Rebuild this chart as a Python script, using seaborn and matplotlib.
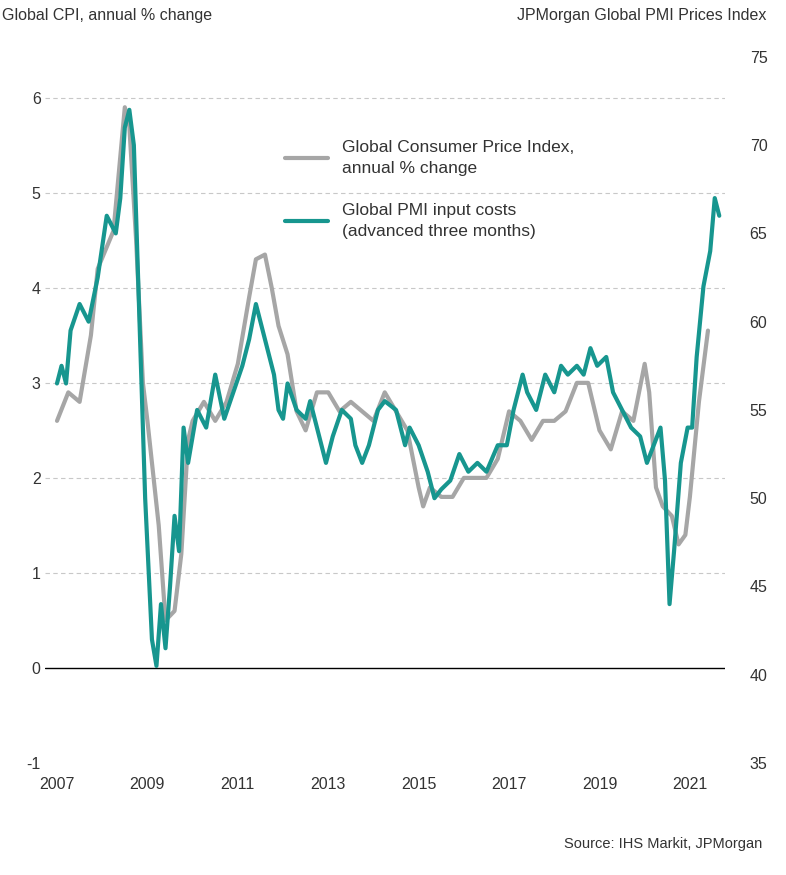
import numpy as np
import pandas as pd
import matplotlib
matplotlib.use("Agg")
import matplotlib.pyplot as plt
import seaborn as sns

cpi_t = [2007.0, 2007.25, 2007.5, 2007.75, 2007.9, 2008.25, 2008.5, 2008.6, 2008.75, 2008.9, 2009.0,
         2009.25, 2009.4, 2009.6, 2009.75, 2009.9, 2010.0, 2010.25, 2010.5, 2010.75, 2011.0, 2011.25,
         2011.4, 2011.6, 2011.75, 2011.9, 2012.1, 2012.3, 2012.5, 2012.75, 2013.0, 2013.25, 2013.5,
         2013.75, 2014.0, 2014.25, 2014.5, 2014.75, 2015.0, 2015.1, 2015.25, 2015.5, 2015.75, 2016.0,
         2016.25, 2016.5, 2016.75, 2017.0, 2017.25, 2017.5, 2017.75, 2018.0, 2018.25, 2018.5, 2018.75,
         2019.0, 2019.25, 2019.5, 2019.75, 2020.0, 2020.1, 2020.25, 2020.4, 2020.6, 2020.75, 2020.9,
         2021.0, 2021.2, 2021.4]
cpi_v = [2.6, 2.9, 2.8, 3.5, 4.2, 4.6, 5.9, 5.7, 4.5, 3.0, 2.6,
         1.5, 0.5, 0.6, 1.2, 2.4, 2.6, 2.8, 2.6, 2.8, 3.2, 3.9,
         4.3, 4.35, 4.0, 3.6, 3.3, 2.7, 2.5, 2.9, 2.9, 2.7, 2.8,
         2.7, 2.6, 2.9, 2.7, 2.5, 1.9, 1.7, 1.9, 1.8, 1.8, 2.0,
         2.0, 2.0, 2.2, 2.7, 2.6, 2.4, 2.6, 2.6, 2.7, 3.0, 3.0,
         2.5, 2.3, 2.7, 2.6, 3.2, 2.9, 1.9, 1.7, 1.6, 1.3, 1.4,
         1.8, 2.8, 3.55]

pmi_t = [2007.0, 2007.1, 2007.2, 2007.3, 2007.5, 2007.7, 2007.9, 2008.1, 2008.3, 2008.4, 2008.5,
         2008.6, 2008.7, 2008.8, 2008.95, 2009.1, 2009.2, 2009.3, 2009.4, 2009.5, 2009.6, 2009.7,
         2009.8, 2009.9, 2010.1, 2010.3, 2010.5, 2010.7, 2010.9, 2011.1, 2011.25, 2011.4, 2011.6,
         2011.8, 2011.9, 2012.0, 2012.1, 2012.3, 2012.5, 2012.6, 2012.8, 2012.95, 2013.1, 2013.3,
         2013.5, 2013.6, 2013.75, 2013.9, 2014.1, 2014.25, 2014.5, 2014.7, 2014.8, 2015.0, 2015.2,
         2015.35, 2015.5, 2015.7, 2015.9, 2016.1, 2016.3, 2016.5, 2016.75, 2016.95, 2017.1, 2017.3,
         2017.4, 2017.6, 2017.8, 2018.0, 2018.15, 2018.3, 2018.5, 2018.65, 2018.8, 2018.95, 2019.15,
         2019.3, 2019.5, 2019.7, 2019.9, 2020.05, 2020.2, 2020.35, 2020.45, 2020.55, 2020.65, 2020.8,
         2020.95, 2021.05, 2021.15, 2021.3, 2021.45, 2021.55, 2021.65]
pmi_v = [56.5, 57.5, 56.5, 59.5, 61, 60, 62.5, 66, 65, 67, 71,
         72, 70, 62, 50, 42, 40.5, 44, 41.5, 45, 49, 47,
         54, 52, 55, 54, 57, 54.5, 56, 57.5, 59, 61, 59,
         57, 55, 54.5, 56.5, 55, 54.5, 55.5, 53.5, 52, 53.5, 55,
         54.5, 53, 52, 53, 55, 55.5, 55, 53, 54, 53, 51.5,
         50, 50.5, 51, 52.5, 51.5, 52, 51.5, 53, 53, 55, 57,
         56, 55, 57, 56, 57.5, 57, 57.5, 57, 58.5, 57.5, 58,
         56, 55, 54, 53.5, 52, 53, 54, 51, 44, 47, 52,
         54, 54, 58, 62, 64, 67, 66]

years = [2007, 2009, 2011, 2013, 2015, 2017, 2019, 2021]

grey = "#A6A6A6"
teal = "#17968F"

sns.set_theme(style="white")
plt.rcParams['font.family'] = ['Liberation Sans', 'DejaVu Sans']
plt.rcParams['axes.unicode_minus'] = False

fig = plt.figure(figsize=(7.86, 8.75), dpi=100)
ax = fig.add_axes([0.057, 0.128, 0.865, 0.807])
ax2 = ax.twinx()

cpi = pd.DataFrame({"t": cpi_t, "v": cpi_v})
pmi = pd.DataFrame({"t": pmi_t, "v": pmi_v})
sns.lineplot(data=cpi, x="t", y="v", ax=ax, color=grey, lw=3, label="Global Consumer Price Index,\nannual % change", legend=False)
sns.lineplot(data=pmi, x="t", y="v", ax=ax2, color=teal, lw=3, label="Global PMI input costs\n(advanced three months)", legend=False)

ax.set_xlim(2006.73, 2021.77)
ax.set_ylim(-1, 6.43)
ax2.set_ylim(35, 75)
ax.set_yticks(range(-1, 7))
ax2.set_yticks(range(35, 76, 5))
ax.set_xticks(years)
for y in range(1, 7):
    ax.axhline(y, color="#C8C8C8", ls=(0, (4, 3)), lw=0.8, zorder=0)
ax.axhline(0, color="black", lw=1, zorder=1)
for a in (ax, ax2):
    for s in a.spines.values():
        s.set_visible(False)
    a.set_xlabel("")
    a.set_ylabel("")
    a.tick_params(labelsize=11.5, colors="#333333", length=0, pad=3)
ax.tick_params(axis="x", pad=10)
ax2.tick_params(axis="y", pad=18)

h1, l1 = ax.get_legend_handles_labels()
h2, l2 = ax2.get_legend_handles_labels()
leg = ax2.legend(h1 + h2, l1 + l2, loc="upper left", bbox_to_anchor=(0.33, 0.905), frameon=False,
                 fontsize=12.5, handlelength=2.5, labelspacing=1.6, labelcolor="#333333")
for t in leg.get_texts():
    t.set_linespacing(1.5)

fig.text(0.003, 0.982, "Global CPI, annual % change", fontsize=11.5, color="#333333", va="center")
fig.text(0.975, 0.982, "JPMorgan Global PMI Prices Index", fontsize=11.5, color="#333333", va="center", ha="right")
fig.text(0.97, 0.035, "Source: IHS Markit, JPMorgan", fontsize=10.5, color="#333333", ha="right", va="center")

fig.savefig("out.png", dpi=100)
